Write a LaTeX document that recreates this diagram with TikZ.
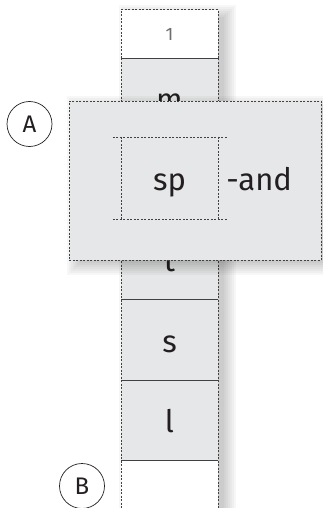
\documentclass[tikz,border=0pt]{standalone}
\usepackage{fontspec}
\setmainfont{Fira Sans}
\definecolor{fond}{HTML}{E6E7E8}
\definecolor{encre}{HTML}{231F20}
\definecolor{gristexte}{HTML}{6D6E71}
\definecolor{trait}{HTML}{414042}

\tikzset{
    pointille/.style={draw=encre!85, line width=.6pt, dash pattern=on 2pt off 1.5pt},
    separation/.style={draw=trait, line width=.9pt},
    case/.style={fill=fond, minimum width=97pt, minimum height=80.5pt, inner sep=0pt,
        text height=25pt, text depth=0pt, text=encre, font=\fontsize{31}{31}\selectfont},
    rond/.style={circle, draw=encre, line width=.7pt, minimum size=45pt, inner sep=0pt,
        text=encre, font=\fontsize{24}{24}\selectfont}
}
% ombre floue: x1,y1,x2,y2
\newcommand{\ombre}[4]{
    \foreach \k in {0,2,...,12}
        \fill[black,opacity=.03] (#1-2+\k,#2-5+\k) rectangle (#3+18-\k,#4+15-\k);
}

\begin{document}
\begin{tikzpicture}[x=1pt,y=-1pt]
    \useasboundingbox (0,0) rectangle (323,508);

    % colonne
    \ombre{121}{10}{218}{508}
    \node[case,fill=white,minimum height=48pt,text height=14pt,
        text=gristexte,font=\fontsize{18}{18}\selectfont] (un) at (169.5,34) {1};
    \node[case] (m) at (169.5,98.25) {m};
    \node[case] (p) at (169.5,178.75) {};
    \node[case] (t) at (169.5,259.25) {t};
    \node[case] (s) at (169.5,339.75) {s};
    \node[case] (l) at (169.5,420.25) {l};
    \node[case,fill=white,minimum height=47.5pt] (fin) at (169.5,484.25) {};

    % bords
    \draw[pointille] (un.south west) -- (un.north west) -- (un.north east) -- (un.south east);
    \draw[pointille] (un.south west) -- (fin.south west);
    \draw[pointille] (un.south east) -- (fin.south east);
    \draw[pointille,draw=gray!50] (fin.south west) -- (fin.south east);
    \foreach \c in {un,m,p,t,s,l}
        \draw[separation] (\c.south west) -- (\c.south east);

    % cadre
    \ombre{69}{101}{321}{260}
    \node[pointille, fill=fond, minimum width=252pt, minimum height=159pt, inner sep=0pt,
        anchor=north west] (cadre) at (69,101) {};
    \node[case, fill=none, minimum height=82pt] (sp) at (169.5,178) {sp};
    \draw[pointille] (sp.north west) -- (sp.south west);
    \draw[pointille] (sp.north east) -- (sp.south east);
    \draw[pointille] ([xshift=-8pt]sp.north west) -- ([xshift=10pt]sp.north east);
    \draw[pointille] ([xshift=-8pt]sp.south west) -- ([xshift=10pt]sp.south east);
    \node[case, fill=none, minimum width=0pt, anchor=west, inner sep=0pt] (and) at ([xshift=8pt]sp.east) {-and};

    % reperes
    \node[rond] (A) at (29.5,124) {A};
    \node[rond] (B) at (82,486) {B};
\end{tikzpicture}
\end{document}
